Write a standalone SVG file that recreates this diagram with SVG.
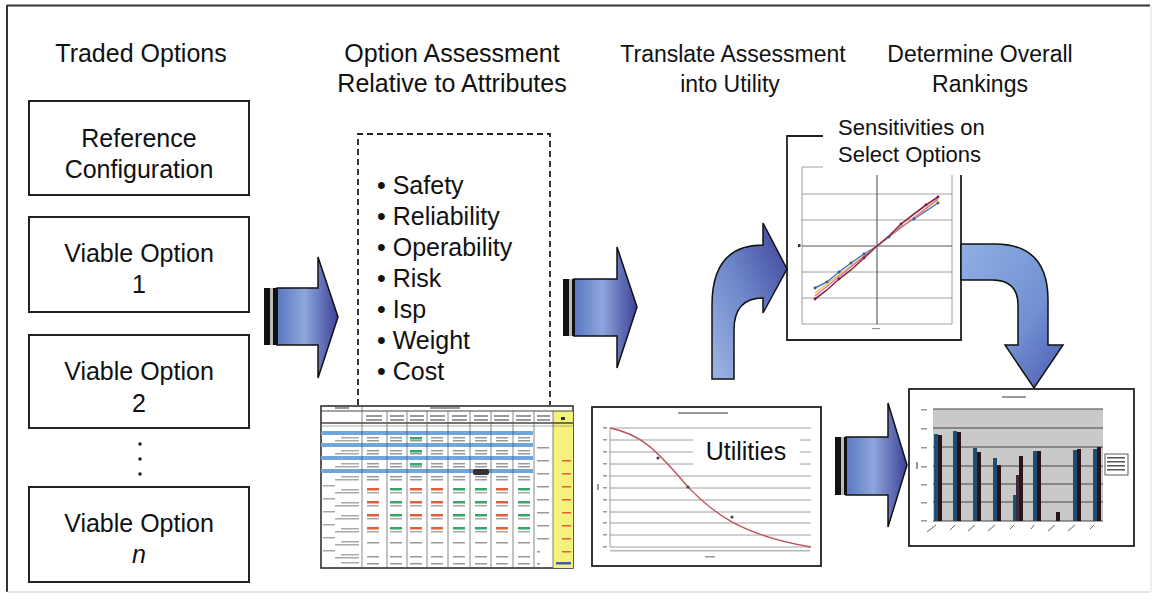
<svg xmlns="http://www.w3.org/2000/svg" width="1153" height="601" viewBox="0 0 1153 601">
<defs>
<linearGradient id="gStraight" x1="0" y1="0" x2="1" y2="0">
<stop offset="0" stop-color="#5a78c2"/><stop offset="0.45" stop-color="#8ea6dc"/><stop offset="1" stop-color="#3d4196"/>
</linearGradient>
<linearGradient id="gUp" x1="0" y1="1" x2="1" y2="0">
<stop offset="0" stop-color="#9db5e3"/><stop offset="0.5" stop-color="#6c84c8"/><stop offset="1" stop-color="#3c4296"/>
</linearGradient>
<linearGradient id="gDown" x1="0" y1="0" x2="1" y2="1">
<stop offset="0" stop-color="#8fb0e3"/><stop offset="0.6" stop-color="#7290d2"/><stop offset="1" stop-color="#4a5ab0"/>
</linearGradient>
<style>
.t{font-family:"Liberation Sans",Arial,sans-serif;fill:#111;}
.h{font-size:25px;text-anchor:middle;}
.h2{font-size:23px;text-anchor:middle;}
.bx{fill:#fff;stroke:#222;stroke-width:2;}
.bl{font-size:25px;}
.arw{stroke:#111;stroke-width:1.5;}
.grid{stroke:#888;stroke-width:0.8;}
.tiny{fill:#999;}
</style>
</defs>
<rect width="1153" height="601" fill="#fff"/>
<!-- frame -->
<line x1="7" y1="5.5" x2="1150" y2="5.5" stroke="#333" stroke-width="2"/>
<line x1="7" y1="5" x2="7" y2="592" stroke="#333" stroke-width="2"/>
<line x1="7" y1="592" x2="1150" y2="592" stroke="#ccc" stroke-width="1"/>
<line x1="1151" y1="5" x2="1151" y2="592" stroke="#ddd" stroke-width="1"/>

<!-- titles -->
<g id="titles" class="t">
<text class="h" x="141" y="62">Traded Options</text>
<text class="h" x="452" y="62">Option Assessment</text>
<text class="h" x="452" y="92">Relative to Attributes</text>
<text class="h2" x="733" y="62">Translate Assessment</text>
<text class="h2" x="730" y="92">into Utility</text>
<text class="h2" x="980" y="62">Determine Overall</text>
<text class="h2" x="980" y="92">Rankings</text>
</g>

<!-- option boxes -->
<g id="ref-config" class="t">
<rect class="bx" x="29" y="101" width="220" height="94"/>
<text class="bl" x="139" y="147" text-anchor="middle">Reference</text>
<text class="bl" x="139" y="178" text-anchor="middle">Configuration</text>
</g>
<g id="viable-1" class="t">
<rect class="bx" x="29" y="217" width="220" height="95"/>
<text class="bl" x="139" y="262" text-anchor="middle">Viable Option</text>
<text class="bl" x="139" y="293" text-anchor="middle">1</text>
</g>
<g id="viable-2" class="t">
<rect class="bx" x="29" y="335" width="220" height="93"/>
<text class="bl" x="139" y="380" text-anchor="middle">Viable Option</text>
<text class="bl" x="139" y="412" text-anchor="middle">2</text>
</g>
<g id="ellipsis">
<circle cx="140" cy="444" r="1.8" fill="#222"/>
<circle cx="140" cy="459" r="1.8" fill="#222"/>
<circle cx="140" cy="474" r="1.8" fill="#222"/>
</g>
<g id="viable-n" class="t">
<rect class="bx" x="29" y="487" width="220" height="95"/>
<text class="bl" x="139" y="532" text-anchor="middle">Viable Option</text>
<text class="bl" x="139" y="563" text-anchor="middle" font-style="italic">n</text>
</g>

<!-- attributes -->
<g id="attributes" class="t">
<path d="M358,405 L358,134 L550,134 L550,405" fill="none" stroke="#222" stroke-width="1.8" stroke-dasharray="6,4"/>
<g font-size="25">
<text x="377" y="194">• Safety</text>
<text x="377" y="225">• Reliability</text>
<text x="377" y="256">• Operability</text>
<text x="377" y="287">• Risk</text>
<text x="377" y="318">• Isp</text>
<text x="377" y="349">• Weight</text>
<text x="377" y="380">• Cost</text>
</g>
</g>

<!-- assessment table -->
<g id="table">
<rect x="321" y="406" width="252" height="162" fill="#fff" stroke="#222" stroke-width="1.5"/>
<rect x="553" y="411" width="20" height="157" fill="#f4f27a"/>
<line x1="321" y1="411" x2="573" y2="411" stroke="#444" stroke-width="1"/>
<line x1="321" y1="423" x2="573" y2="423" stroke="#444" stroke-width="1.3"/>
<line x1="321" y1="426" x2="573" y2="426" stroke="#888" stroke-width="0.7"/>
<g fill="#6fa6de">
<rect x="321" y="431" width="212" height="4"/>
<rect x="321" y="443" width="212" height="4"/>
<rect x="321" y="456" width="212" height="4"/>
<rect x="321" y="469" width="212" height="4"/>
</g>
<rect x="473" y="469" width="16" height="6" rx="2" fill="#333"/>
<g stroke="#555" stroke-width="0.7">
<line x1="362" y1="406" x2="362" y2="568"/>
<line x1="387" y1="411" x2="387" y2="568"/>
<line x1="407" y1="411" x2="407" y2="568"/>
<line x1="427" y1="411" x2="427" y2="568"/>
<line x1="448" y1="411" x2="448" y2="568"/>
<line x1="470" y1="411" x2="470" y2="568"/>
<line x1="491" y1="411" x2="491" y2="568"/>
<line x1="513" y1="411" x2="513" y2="568"/>
<line x1="534" y1="411" x2="534" y2="568"/>
<line x1="553" y1="411" x2="553" y2="568"/>
</g>
<g class="tiny">
<rect x="335" y="407" width="14" height="2"/>
<rect x="430" y="407" width="30" height="2"/>
<rect x="366" y="415" width="16" height="2"/><rect x="390" y="415" width="14" height="2"/><rect x="410" y="415" width="14" height="2"/><rect x="430" y="415" width="15" height="2"/><rect x="452" y="415" width="15" height="2"/><rect x="474" y="415" width="14" height="2"/><rect x="494" y="415" width="15" height="2"/><rect x="516" y="415" width="15" height="2"/><rect x="537" y="415" width="13" height="2"/>
<rect x="366" y="419" width="16" height="2"/><rect x="390" y="419" width="14" height="2"/><rect x="410" y="419" width="14" height="2"/><rect x="430" y="419" width="15" height="2"/><rect x="452" y="419" width="15" height="2"/><rect x="474" y="419" width="14" height="2"/><rect x="494" y="419" width="15" height="2"/><rect x="516" y="419" width="15" height="2"/><rect x="537" y="419" width="13" height="2"/>
</g>
<g fill="#aaa">
<rect x="341" y="437" width="18" height="1.5"/><rect x="335" y="440" width="24" height="1.5"/>
<rect x="341" y="450" width="18" height="1.5"/><rect x="335" y="453" width="24" height="1.5"/>
<rect x="341" y="463" width="18" height="1.5"/><rect x="335" y="466" width="24" height="1.5"/>
<rect x="341" y="476" width="18" height="1.5"/><rect x="335" y="479" width="24" height="1.5"/>
<rect x="323" y="485" width="12" height="1.5"/><rect x="341" y="489" width="18" height="1.5"/><rect x="335" y="492" width="24" height="1.5"/>
<rect x="323" y="498" width="12" height="1.5"/><rect x="341" y="502" width="18" height="1.5"/><rect x="335" y="505" width="24" height="1.5"/>
<rect x="323" y="511" width="12" height="1.5"/><rect x="341" y="515" width="18" height="1.5"/><rect x="335" y="518" width="24" height="1.5"/>
<rect x="323" y="524" width="12" height="1.5"/><rect x="341" y="528" width="18" height="1.5"/><rect x="335" y="531" width="24" height="1.5"/>
<rect x="323" y="537" width="12" height="1.5"/><rect x="341" y="541" width="18" height="1.5"/><rect x="335" y="544" width="24" height="1.5"/>
<rect x="323" y="550" width="12" height="1.5"/><rect x="341" y="554" width="18" height="1.5"/><rect x="335" y="557" width="24" height="1.5"/>
<rect x="341" y="562" width="18" height="1.5"/>
</g>
<g fill="#999">
<rect x="367" y="437" width="12" height="1.5"/><rect x="390" y="437" width="12" height="1.5"/><rect x="431" y="437" width="12" height="1.5"/><rect x="453" y="437" width="12" height="1.5"/><rect x="475" y="437" width="12" height="1.5"/><rect x="496" y="437" width="12" height="1.5"/><rect x="518" y="437" width="12" height="1.5"/>
<rect x="367" y="440" width="12" height="1.5"/><rect x="390" y="440" width="12" height="1.5"/><rect x="410" y="440" width="12" height="1.5"/><rect x="431" y="440" width="12" height="1.5"/><rect x="453" y="440" width="12" height="1.5"/><rect x="475" y="440" width="12" height="1.5"/><rect x="496" y="440" width="12" height="1.5"/><rect x="518" y="440" width="12" height="1.5"/>
<rect x="367" y="450" width="12" height="1.5"/><rect x="390" y="450" width="12" height="1.5"/><rect x="431" y="450" width="12" height="1.5"/><rect x="453" y="450" width="12" height="1.5"/><rect x="475" y="450" width="12" height="1.5"/><rect x="496" y="450" width="12" height="1.5"/><rect x="518" y="450" width="12" height="1.5"/>
<rect x="367" y="453" width="12" height="1.5"/><rect x="390" y="453" width="12" height="1.5"/><rect x="410" y="453" width="12" height="1.5"/><rect x="431" y="453" width="12" height="1.5"/><rect x="453" y="453" width="12" height="1.5"/><rect x="475" y="453" width="12" height="1.5"/><rect x="496" y="453" width="12" height="1.5"/><rect x="518" y="453" width="12" height="1.5"/>
<rect x="367" y="463" width="12" height="1.5"/><rect x="390" y="463" width="12" height="1.5"/><rect x="431" y="463" width="12" height="1.5"/><rect x="453" y="463" width="12" height="1.5"/><rect x="475" y="463" width="12" height="1.5"/><rect x="496" y="463" width="12" height="1.5"/><rect x="518" y="463" width="12" height="1.5"/>
<rect x="367" y="466" width="12" height="1.5"/><rect x="390" y="466" width="12" height="1.5"/><rect x="410" y="466" width="12" height="1.5"/><rect x="431" y="466" width="12" height="1.5"/><rect x="453" y="466" width="12" height="1.5"/><rect x="475" y="466" width="12" height="1.5"/><rect x="496" y="466" width="12" height="1.5"/><rect x="518" y="466" width="12" height="1.5"/>
<rect x="367" y="476" width="12" height="1.5"/><rect x="390" y="476" width="12" height="1.5"/><rect x="410" y="476" width="12" height="1.5"/><rect x="431" y="476" width="12" height="1.5"/><rect x="453" y="476" width="12" height="1.5"/><rect x="475" y="476" width="12" height="1.5"/><rect x="496" y="476" width="12" height="1.5"/><rect x="518" y="476" width="12" height="1.5"/>
<rect x="367" y="479" width="12" height="1.5"/><rect x="390" y="479" width="12" height="1.5"/><rect x="410" y="479" width="12" height="1.5"/><rect x="431" y="479" width="12" height="1.5"/><rect x="453" y="479" width="12" height="1.5"/><rect x="475" y="479" width="12" height="1.5"/><rect x="496" y="479" width="12" height="1.5"/><rect x="518" y="479" width="12" height="1.5"/>
<rect x="367" y="542" width="12" height="1.5"/><rect x="390" y="542" width="12" height="1.5"/><rect x="410" y="542" width="12" height="1.5"/><rect x="431" y="542" width="12" height="1.5"/><rect x="453" y="542" width="12" height="1.5"/><rect x="475" y="542" width="12" height="1.5"/><rect x="496" y="542" width="12" height="1.5"/><rect x="518" y="542" width="12" height="1.5"/>
<rect x="367" y="556" width="12" height="1.5"/><rect x="390" y="556" width="12" height="1.5"/><rect x="410" y="556" width="12" height="1.5"/><rect x="431" y="556" width="12" height="1.5"/><rect x="453" y="556" width="12" height="1.5"/><rect x="475" y="556" width="12" height="1.5"/><rect x="496" y="556" width="12" height="1.5"/><rect x="518" y="556" width="12" height="1.5"/>
<rect x="367" y="563" width="12" height="1.5"/><rect x="390" y="563" width="12" height="1.5"/><rect x="410" y="563" width="12" height="1.5"/><rect x="431" y="563" width="12" height="1.5"/><rect x="453" y="563" width="12" height="1.5"/><rect x="475" y="563" width="12" height="1.5"/><rect x="496" y="563" width="12" height="1.5"/><rect x="518" y="563" width="12" height="1.5"/>
</g>
<g>
<g fill="#e0603a"><rect x="367" y="488" width="12" height="2.5"/><rect x="410" y="488" width="12" height="2.5"/><rect x="431" y="488" width="12" height="2.5"/><rect x="496" y="488" width="12" height="2.5"/>
<rect x="367" y="501" width="12" height="2.5"/><rect x="410" y="501" width="12" height="2.5"/><rect x="431" y="501" width="12" height="2.5"/><rect x="496" y="501" width="12" height="2.5"/>
<rect x="367" y="514" width="12" height="2.5"/><rect x="410" y="514" width="12" height="2.5"/><rect x="431" y="514" width="12" height="2.5"/><rect x="496" y="514" width="12" height="2.5"/>
<rect x="367" y="527" width="12" height="2.5"/><rect x="410" y="527" width="12" height="2.5"/><rect x="431" y="527" width="12" height="2.5"/><rect x="496" y="527" width="12" height="2.5"/></g>
<g fill="#3aa56a"><rect x="390" y="488" width="12" height="2.5"/><rect x="453" y="488" width="12" height="2.5"/><rect x="475" y="488" width="12" height="2.5"/><rect x="518" y="488" width="12" height="2.5"/>
<rect x="390" y="501" width="12" height="2.5"/><rect x="453" y="501" width="12" height="2.5"/><rect x="475" y="501" width="12" height="2.5"/><rect x="518" y="501" width="12" height="2.5"/>
<rect x="390" y="514" width="12" height="2.5"/><rect x="453" y="514" width="12" height="2.5"/><rect x="475" y="514" width="12" height="2.5"/><rect x="518" y="514" width="12" height="2.5"/>
<rect x="390" y="527" width="12" height="2.5"/><rect x="453" y="527" width="12" height="2.5"/><rect x="475" y="527" width="12" height="2.5"/><rect x="518" y="527" width="12" height="2.5"/>
<rect x="410" y="437" width="12" height="2.5"/><rect x="410" y="450" width="12" height="2.5"/><rect x="410" y="463" width="12" height="2.5"/></g>
<g fill="#aaa"><rect x="367" y="492" width="12" height="1.5"/><rect x="390" y="492" width="12" height="1.5"/><rect x="410" y="492" width="12" height="1.5"/><rect x="431" y="492" width="12" height="1.5"/><rect x="453" y="492" width="12" height="1.5"/><rect x="475" y="492" width="12" height="1.5"/><rect x="496" y="492" width="12" height="1.5"/><rect x="518" y="492" width="12" height="1.5"/>
<rect x="367" y="505" width="12" height="1.5"/><rect x="390" y="505" width="12" height="1.5"/><rect x="410" y="505" width="12" height="1.5"/><rect x="431" y="505" width="12" height="1.5"/><rect x="453" y="505" width="12" height="1.5"/><rect x="475" y="505" width="12" height="1.5"/><rect x="496" y="505" width="12" height="1.5"/><rect x="518" y="505" width="12" height="1.5"/>
<rect x="367" y="518" width="12" height="1.5"/><rect x="390" y="518" width="12" height="1.5"/><rect x="410" y="518" width="12" height="1.5"/><rect x="431" y="518" width="12" height="1.5"/><rect x="453" y="518" width="12" height="1.5"/><rect x="475" y="518" width="12" height="1.5"/><rect x="496" y="518" width="12" height="1.5"/><rect x="518" y="518" width="12" height="1.5"/>
<rect x="367" y="531" width="12" height="1.5"/><rect x="390" y="531" width="12" height="1.5"/><rect x="410" y="531" width="12" height="1.5"/><rect x="431" y="531" width="12" height="1.5"/><rect x="453" y="531" width="12" height="1.5"/><rect x="475" y="531" width="12" height="1.5"/><rect x="496" y="531" width="12" height="1.5"/><rect x="518" y="531" width="12" height="1.5"/></g>
<g fill="#999"><rect x="537" y="447" width="12" height="1.5"/><rect x="537" y="460" width="12" height="1.5"/><rect x="537" y="473" width="12" height="1.5"/><rect x="537" y="486" width="12" height="1.5"/><rect x="537" y="499" width="12" height="1.5"/><rect x="537" y="512" width="12" height="1.5"/><rect x="537" y="525" width="12" height="1.5"/><rect x="537" y="538" width="12" height="1.5"/><rect x="537" y="551" width="3" height="1.5"/><rect x="537" y="563" width="3" height="1.5"/></g>
<g fill="#e0603a"><rect x="562" y="460" width="9" height="1.5"/><rect x="562" y="473" width="9" height="1.5"/><rect x="562" y="486" width="9" height="1.5"/><rect x="562" y="499" width="9" height="1.5"/><rect x="562" y="512" width="9" height="1.5"/><rect x="562" y="525" width="9" height="1.5"/><rect x="562" y="538" width="9" height="1.5"/><rect x="562" y="551" width="9" height="1.5"/></g>
<rect x="556" y="562" width="15" height="2.5" fill="#3a5cc0"/>
<rect x="561" y="417" width="4" height="3" fill="#333"/>
</g>
</g>

<!-- utilities chart -->
<g id="utilities">
<rect x="592" y="407" width="229" height="159" fill="#fff" stroke="#222" stroke-width="1.8"/>
<rect x="678" y="412" width="50" height="2" class="tiny"/>
<g class="grid">
<line x1="610" y1="428" x2="811" y2="428"/><line x1="610" y1="440" x2="811" y2="440"/><line x1="610" y1="452" x2="811" y2="452"/><line x1="610" y1="464" x2="811" y2="464"/><line x1="610" y1="476" x2="811" y2="476"/><line x1="610" y1="488" x2="811" y2="488"/><line x1="610" y1="500" x2="811" y2="500"/><line x1="610" y1="512" x2="811" y2="512"/><line x1="610" y1="523" x2="811" y2="523"/><line x1="610" y1="535" x2="811" y2="535"/><line x1="610" y1="547" x2="811" y2="547"/>
<line x1="610" y1="428" x2="610" y2="547"/>
</g>
<g class="tiny">
<rect x="603" y="427" width="4" height="1.5"/><rect x="603" y="439" width="4" height="1.5"/><rect x="603" y="451" width="4" height="1.5"/><rect x="603" y="463" width="4" height="1.5"/><rect x="603" y="475" width="4" height="1.5"/><rect x="603" y="487" width="4" height="1.5"/><rect x="603" y="499" width="4" height="1.5"/><rect x="603" y="511" width="4" height="1.5"/><rect x="603" y="522" width="4" height="1.5"/><rect x="603" y="534" width="4" height="1.5"/><rect x="603" y="546" width="4" height="1.5"/>
<rect x="597" y="484" width="2" height="6"/>
<rect x="610" y="550" width="200" height="1.5" opacity="0.7"/>
<rect x="705" y="556" width="10" height="1.5"/>
</g>
<path d="M610,428 C640,434 655,448 688,487 C712,512 740,535 811,547" fill="none" stroke="#c0505a" stroke-width="1.3"/>
<g fill="#444"><circle cx="658" cy="458" r="1.6"/><circle cx="688" cy="487" r="1.6"/><circle cx="732" cy="517" r="1.6"/></g>
<rect x="693" y="434" width="107" height="34" fill="#fff"/>
<text class="t" x="746" y="460" font-size="25" text-anchor="middle">Utilities</text>
</g>

<!-- sensitivities chart -->
<g id="sensitivities">
<path d="M823,136 L787,136 L787,340 L961,340 L961,175" fill="none" stroke="#222" stroke-width="1.8"/>
<g class="grid" stroke="#999">
<line x1="802" y1="167" x2="823" y2="167"/>
<line x1="802" y1="167" x2="802" y2="324"/>
<line x1="802" y1="194" x2="952" y2="194"/><line x1="802" y1="220" x2="952" y2="220"/><line x1="802" y1="272" x2="952" y2="272"/><line x1="802" y1="298" x2="952" y2="298"/><line x1="802" y1="324" x2="952" y2="324"/>
<line x1="952" y1="175" x2="952" y2="324"/>
</g>
<line x1="802" y1="246" x2="952" y2="246" stroke="#555" stroke-width="1"/>
<line x1="877" y1="175" x2="877" y2="324" stroke="#444" stroke-width="1"/>
<rect x="798" y="244" width="2.5" height="3" fill="#333"/>
<rect x="872" y="328" width="8" height="1.2" class="tiny"/>
<polyline points="815,288 827,282 839,272 851,263 864,254 877,246 889,237 901,227 914,219 926,211 938,203" fill="none" stroke="#3f6fc0" stroke-width="1.4"/>
<polyline points="815,293 877,246 938,200" fill="none" stroke="#e8c43a" stroke-width="1.4"/>
<polyline points="815,296 877,246 938,199" fill="none" stroke="#d86aa8" stroke-width="1.2"/>
<polyline points="815,299 827,290 839,279 851,270 864,258 877,246 889,236 901,224 914,214 926,205 938,197" fill="none" stroke="#8a2a3a" stroke-width="1.6"/>
<g fill="#2f5a9a"><circle cx="815" cy="288" r="1.4"/><circle cx="827" cy="282" r="1.4"/><circle cx="839" cy="272" r="1.4"/><circle cx="851" cy="263" r="1.4"/><circle cx="864" cy="254" r="1.4"/><circle cx="889" cy="237" r="1.4"/><circle cx="914" cy="219" r="1.4"/><circle cx="938" cy="203" r="1.4"/></g>
<g fill="#7a1f30"><circle cx="815" cy="299" r="1.4"/><circle cx="839" cy="279" r="1.4"/><circle cx="864" cy="258" r="1.4"/><circle cx="901" cy="224" r="1.4"/><circle cx="926" cy="205" r="1.4"/><circle cx="938" cy="197" r="1.4"/></g>
<text class="t" x="838" y="135" font-size="22">Sensitivities on</text>
<text class="t" x="838" y="162" font-size="22">Select Options</text>
</g>

<!-- rankings bar chart -->
<g id="rankings">
<rect x="909" y="389" width="225" height="157" fill="#fff" stroke="#222" stroke-width="1.8"/>
<rect x="1002" y="396" width="24" height="2" class="tiny"/>
<rect x="933" y="409" width="170" height="112" fill="#c9c9c9"/>
<g stroke="#444" stroke-width="1">
<line x1="933" y1="409" x2="1103" y2="409"/><line x1="933" y1="428" x2="1103" y2="428"/><line x1="933" y1="447" x2="1103" y2="447"/><line x1="933" y1="466" x2="1103" y2="466"/><line x1="933" y1="484" x2="1103" y2="484"/><line x1="933" y1="502" x2="1103" y2="502"/><line x1="933" y1="521" x2="1103" y2="521"/>
</g>
<g class="tiny">
<rect x="921" y="409" width="6" height="1.5"/><rect x="921" y="428" width="6" height="1.5"/><rect x="921" y="447" width="6" height="1.5"/><rect x="921" y="466" width="6" height="1.5"/><rect x="921" y="484" width="6" height="1.5"/><rect x="921" y="502" width="6" height="1.5"/><rect x="921" y="520" width="6" height="1.5"/>
<rect x="916" y="462" width="2" height="7"/>
</g>
<g fill="#1d4f73">
<rect x="934" y="434" width="4" height="87"/><rect x="953" y="431" width="4" height="90"/><rect x="973" y="448" width="4" height="73"/><rect x="993" y="458" width="4" height="63"/><rect x="1013" y="495" width="4" height="26"/><rect x="1033" y="451" width="4" height="70"/><rect x="1073" y="450" width="4" height="71"/><rect x="1093" y="449" width="4" height="72"/>
</g>
<g fill="#2a1418">
<rect x="938" y="435" width="4" height="86"/><rect x="957" y="432" width="4" height="89"/><rect x="977" y="452" width="4" height="69"/><rect x="997" y="465" width="4" height="56"/><rect x="1019" y="456" width="4" height="65"/><rect x="1037" y="451" width="4" height="70"/><rect x="1056" y="512" width="4" height="9"/><rect x="1077" y="449" width="4" height="72"/><rect x="1097" y="447" width="4" height="74"/>
</g>
<rect x="1016" y="475" width="3" height="46" fill="#3a2a3a"/>
<g stroke="#666" stroke-width="1">
<line x1="927" y1="532" x2="936" y2="525"/><line x1="950" y1="530" x2="955" y2="525"/><line x1="968" y1="531" x2="975" y2="525"/><line x1="988" y1="531" x2="995" y2="525"/><line x1="1010" y1="529" x2="1014" y2="525"/><line x1="1031" y1="529" x2="1034" y2="525"/><line x1="1048" y1="531" x2="1055" y2="525"/><line x1="1068" y1="531" x2="1075" y2="525"/><line x1="1090" y1="529" x2="1094" y2="525"/>
</g>
<rect x="1105" y="454" width="23" height="21" fill="#fff" stroke="#333" stroke-width="0.8"/>
<g fill="#555"><rect x="1107" y="457" width="18" height="1.5"/><rect x="1107" y="461" width="18" height="1.5"/><rect x="1107" y="465" width="18" height="1.5"/><rect x="1107" y="469" width="18" height="1.5"/></g>
</g>

<!-- connectors -->
<g id="connectors">
<g id="arrow-1">
<path class="arw" d="M277,288 L318,288 L318,257 L338,317 L318,378 L318,345 L277,345 Z" fill="url(#gStraight)"/>
<rect x="264" y="288" width="6" height="57" fill="#111"/>
<rect x="270" y="288" width="3" height="57" fill="#bbb"/>
<rect x="273" y="288" width="5" height="57" fill="#111"/>
</g>
<g id="arrow-2">
<path class="arw" d="M574,279 L617,279 L617,247 L637,307 L617,368 L617,336 L574,336 Z" fill="url(#gStraight)"/>
<rect x="563" y="279" width="6" height="57" fill="#111"/>
<rect x="569" y="279" width="3" height="57" fill="#bbb"/>
<rect x="572" y="279" width="3" height="57" fill="#111"/>
</g>
<g id="arrow-3">
<path class="arw" d="M846,437 L888,437 L888,403 L907,465 L888,527 L888,495 L846,495 Z" fill="url(#gStraight)"/>
<rect x="835" y="437" width="6" height="58" fill="#111"/>
<rect x="841" y="437" width="3" height="58" fill="#bbb"/>
<rect x="844" y="437" width="3" height="58" fill="#111"/>
</g>
<g id="arrow-up">
<path class="arw" d="M712,379 L712,305 Q712,245 763,245 L763,223 L787,269 L763,313 L763,298 Q734,298 734,330 L734,379 Z" fill="url(#gUp)"/>
</g>
<g id="arrow-down">
<path class="arw" d="M961,244 L995,244 Q1048,244 1048,300 L1048,345 L1063,345 L1034,388 L1005,345 L1018,345 L1018,305 Q1018,280 992,280 L961,280 Z" fill="url(#gDown)"/>
</g>
</g>
</svg>
